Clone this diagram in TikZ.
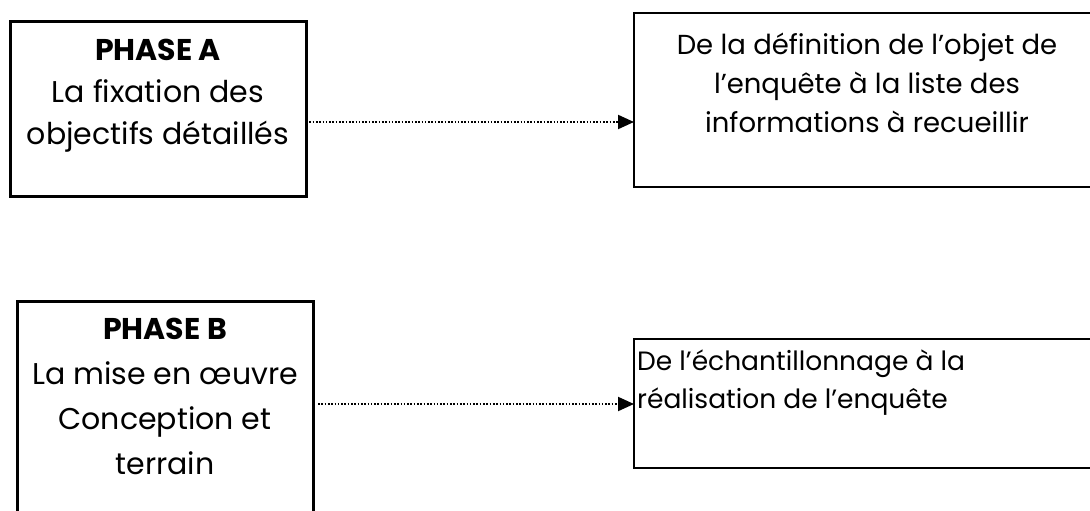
\documentclass[tikz,border=0pt]{standalone}
\usepackage{fontspec}
\setmainfont{Poppins}
\usetikzlibrary{arrows.meta}
\tikzset{
  thickbox/.style={draw, line width=3pt, inner sep=0pt, outer sep=0pt, anchor=north west},
  thinbox/.style={draw, line width=2pt, inner sep=0pt, outer sep=0pt, anchor=north west},
  boxtext/.style={align=center, inner sep=0pt},
  flow/.style={line width=2pt, dash pattern=on 1.6pt off 1.7pt, -{Triangle[length=16pt,width=14pt]}}
}
\begin{document}
\begin{tikzpicture}[x=1pt,y=-1pt]
\useasboundingbox[fill=white] (0,0) rectangle (1090,511);
% boxes
\node[thickbox, minimum width=296pt, minimum height=174pt] (A) at (10,22) {};
\node[thinbox, minimum width=470pt, minimum height=174pt] (A2) at (634,13) {};
\node[thickbox, minimum width=296pt, minimum height=240pt] (B) at (17,301) {};
\node[thinbox, minimum width=470pt, minimum height=129pt] (B2) at (634,339) {};
% texts
\node[boxtext, font=\fontsize{30}{42}\selectfont] (At) at (158,96)
  {\textbf{PHASE A}\\La fixation des\\objectifs détaillés};
\node[boxtext, font=\fontsize{27.5}{39}\selectfont] (A2t) at (867,83)
  {De la définition de l’objet de\\l’enquête à la liste des\\informations à recueillir};
\node[boxtext, font=\fontsize{30}{45}\selectfont] (Bt) at (165,396)
  {\textbf{PHASE B}\\La mise en œuvre\\Conception et\\terrain};
\node[boxtext, align=left, anchor=west, font=\fontsize{26.5}{38}\selectfont] (B2t) at (637,383)
  {De l’échantillonnage à la\\réalisation de l’enquête};
% connectors
\coordinate (ya) at (0,122);
\coordinate (yb) at (0,404);
\draw[flow] (A.east |- ya) -- (A2.west |- ya);
\draw[flow] ([xshift=5pt]B.east |- yb) -- (B2.west |- yb);
\end{tikzpicture}
\end{document}
